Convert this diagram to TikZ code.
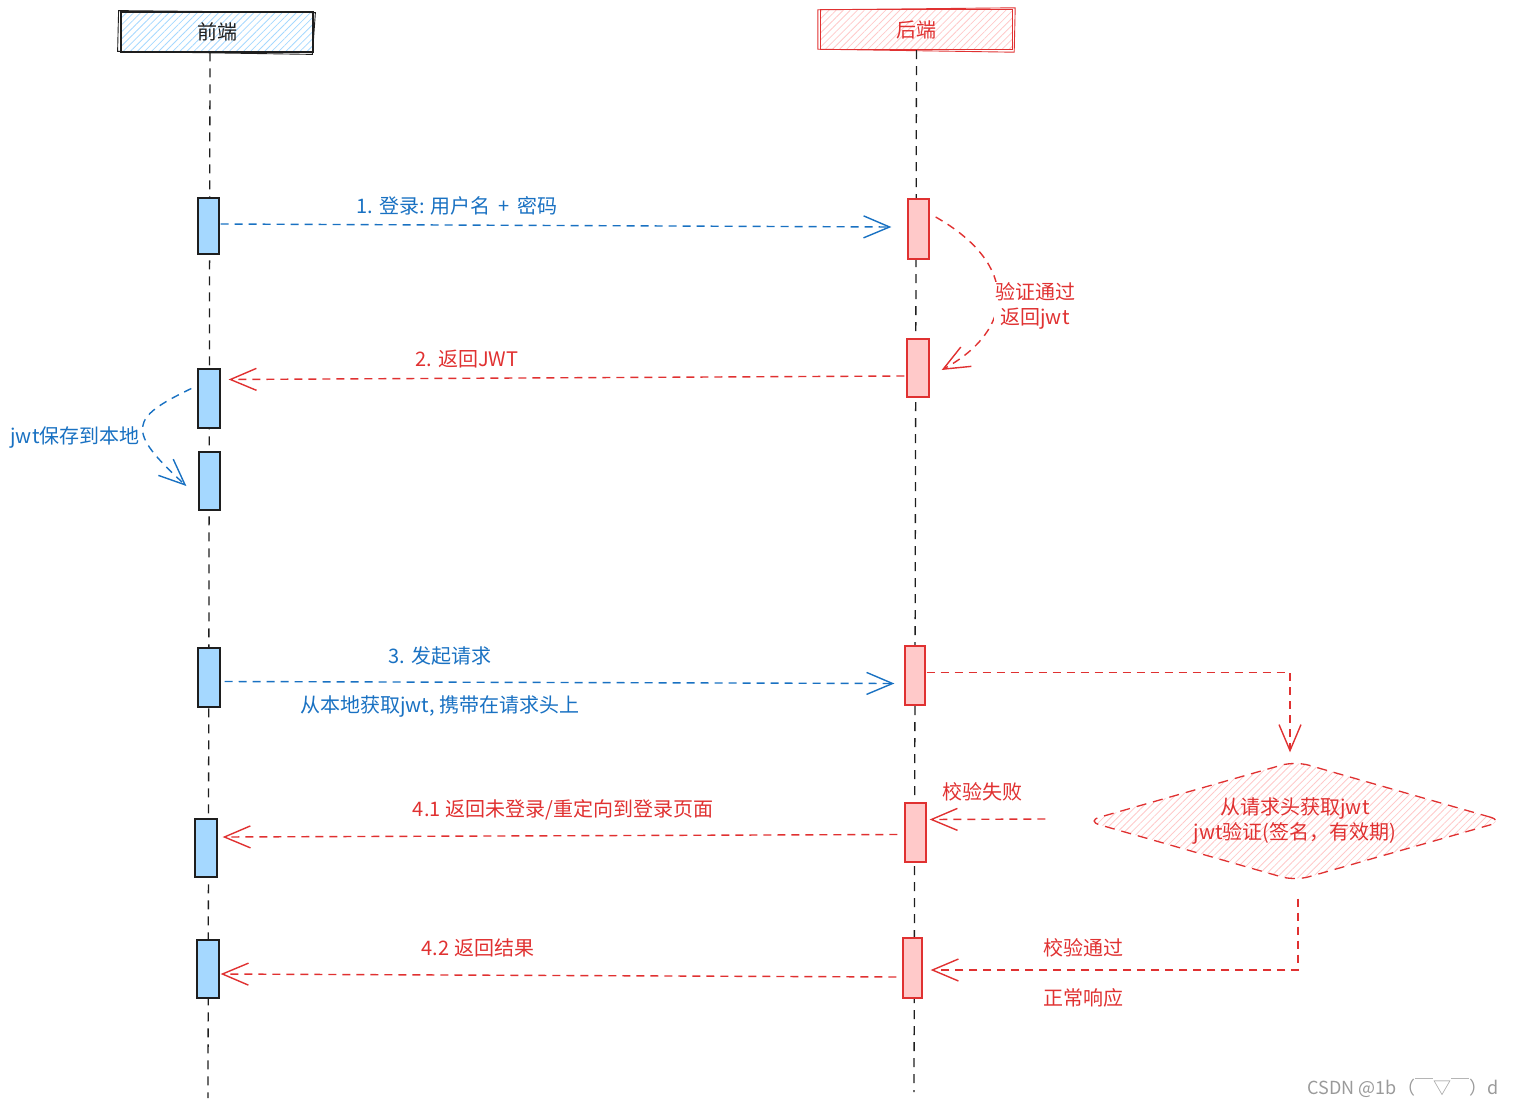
\documentclass[tikz,border=0pt]{standalone}
\usepackage{fontspec}
\setmainfont{Noto Sans CJK SC}
\usetikzlibrary{arrows.meta,calc,shapes.geometric,patterns.meta}

\definecolor{inkblue}{HTML}{1971C2}
\definecolor{inkred}{HTML}{E03131}
\definecolor{inkdark}{HTML}{1E1E1E}
\definecolor{fillblue}{HTML}{A5D8FF}
\definecolor{fillred}{HTML}{FFC9C9}
\definecolor{markgray}{HTML}{9A9A9A}

\tikzset{
  hatch/.style={pattern={Lines[angle=45,distance=5pt,line width=0.8pt]}, pattern color=#1},
  header/.style={draw, line width=1.4pt, minimum width=192pt, minimum height=40pt,
    inner sep=0pt, font=\fontsize{20}{24}\selectfont},
  sketch/.style={line width=0.9pt},
  actbox/.style={draw, line width=1.3pt, minimum width=21pt, minimum height=58pt, inner sep=0pt},
  frontbox/.style={actbox, fill=fillblue, draw=inkdark},
  backbox/.style={actbox, fill=fillred, draw=inkred},
  lifeline/.style={draw=inkdark, line width=1.3pt, dash pattern=on 9pt off 7pt},
  msg/.style={line width=1.4pt, dash pattern=on 8pt off 6pt,
    -{Straight Barb[length=26pt,width=22pt]}},
  bluemsg/.style={msg, draw=inkblue},
  redmsg/.style={msg, draw=inkred},
  lbl/.style={font=\fontsize{20}{25}\selectfont, inner sep=1pt, align=center},
  bluelbl/.style={lbl, text=inkblue},
  redlbl/.style={lbl, text=inkred},
}

\begin{document}
\begin{tikzpicture}[x=1pt, y=-1pt]
\useasboundingbox (0,0) rectangle (1521,1108);

% participant headers
\node (hf) [header, draw=inkdark, hatch=fillblue, text=inkdark] at (217,32) {前端};
\node (hb) [header, draw=inkred, hatch=fillred, text=inkred] at (916.5,29.5) {后端};
% second hand-drawn stroke round each header
\draw[sketch, draw=inkdark] ($(hf.north west)+(-2,-1)$) -- ($(hf.north east)+(2,1)$)
  -- ($(hf.south east)+(-1,2)$) -- ($(hf.south west)+(-3,-1)$) -- cycle;
\draw[sketch, draw=inkred] ($(hb.north west)+(-2,1)$) -- ($(hb.north east)+(2,-1)$)
  -- ($(hb.south east)+(1,2)$) -- ($(hb.south west)+(-2,-1)$) -- cycle;

% lifelines
\coordinate (fend) at (208,1098);
\coordinate (bend) at (914,1092);
\draw[lifeline] ([xshift=-7pt]hf.south) -- (fend);
\draw[lifeline] (hb.south) -- (bend);

% activation boxes on the front-end lifeline
\node (a1) [frontbox, minimum width=21pt, minimum height=56pt] at (208.5,226) {};
\node (a2) [frontbox, minimum width=22pt, minimum height=59pt] at (209,398.5) {};
\node (a3) [frontbox, minimum width=21pt, minimum height=58pt] at (209.5,481) {};
\node (a4) [frontbox, minimum width=22pt, minimum height=59pt] at (209,677.5) {};
\node (a5) [frontbox, minimum width=22pt, minimum height=58pt] at (206,848) {};
\node (a6) [frontbox, minimum width=22pt, minimum height=58pt] at (208,969) {};

% activation boxes on the back-end lifeline
\node (b1) [backbox, minimum width=21pt, minimum height=60pt] at (918.5,229) {};
\node (b2) [backbox, minimum width=22pt, minimum height=58pt] at (918,368) {};
\node (b3) [backbox, minimum width=20pt, minimum height=59pt] at (915,675.5) {};
\node (b4) [backbox, minimum width=21pt, minimum height=59pt] at (915.5,832.5) {};
\node (b5) [backbox, minimum width=19pt, minimum height=60pt] at (912.5,968) {};

% decision diamond
\node (dm) [diamond, draw=inkred, line width=1.3pt, dash pattern=on 10pt off 7pt,
  hatch=fillred, rounded corners=14pt, aspect=3.6, inner sep=0pt,
  minimum width=418pt, minimum height=120pt, redlbl] at (1295,821)
  {从请求头获取jwt\\jwt验证(签名，有效期)};

% 1. login
\draw[bluemsg] ($(a1.east)+(1,-2)$) -- ($(b1.west)+(-16,-2)$);
\node (l1) [bluelbl] at (457,206) {1. 登录: 用户名 \,+\, 密码};

% server check and reply
\draw[redmsg] ($(b1.east)+(6,-12)$) .. controls (1020,265) and (1015,330) .. ($(b2.east)+(12,2)$);
\node (vl) [redlbl, fill=white] at (1035,306) {验证通过\\返回jwt};

% 2. return JWT
\draw[redmsg] ($(b2.west)+(-2,8)$) -- ($(a2.east)+(8,-19)$);
\node (l2) [redlbl] at (467,359) {2. 返回JWT};

% store token locally
\draw[bluemsg] ($(a2.west)+(-6,-10)$) .. controls (130,418) and (125,430) .. ($(a3.west)+(-12,5)$);
\node (jl) [bluelbl, fill=white] at (75,438) {jwt保存到本地};

% 3. request
\draw[bluemsg] ($(a4.east)+(4,4)$) -- ($(b3.west)+(-10,8)$);
\node (l3) [bluelbl] at (440,656) {3. 发起请求};
\node (l3b) [bluelbl] at (440,706) {从本地获取jwt, 携带在请求头上};

% request goes to the check
\draw[redmsg] ($(b3.east)+(1,-3)$) -| ($(dm.north)+(-5,-8)$);

% check failed
\draw[redmsg] ($(dm.west)+(-40,-2)$) -- ($(b4.east)+(3,-13)$);
\node (lf) [redlbl] at (982,792) {校验失败};

% 4.1 not logged in
\draw[redmsg] ($(b4.west)+(-7,2)$) -- ($(a5.east)+(5,-11)$);
\node (l41) [redlbl] at (563,810) {4.1 返回未登录/重定向到登录页面};

% check passed
\draw[redmsg] ($(dm.south)+(3,17)$) |- ($(b5.east)+(8,2)$);
\node (lp) [redlbl] at (1083,948) {校验通过};
\node (lp2) [redlbl] at (1083,998) {正常响应};

% 4.2 result
\draw[redmsg] ($(b5.west)+(-6,9)$) -- ($(a6.east)+(1,5)$);
\node (l42) [redlbl] at (478,948) {4.2 返回结果};

% signature
\node (wm) [font=\fontsize{18}{22}\selectfont, text=markgray, inner sep=0pt] at (1403,1088) {CSDN @1b（￣▽￣）d};
\end{tikzpicture}
\end{document}
